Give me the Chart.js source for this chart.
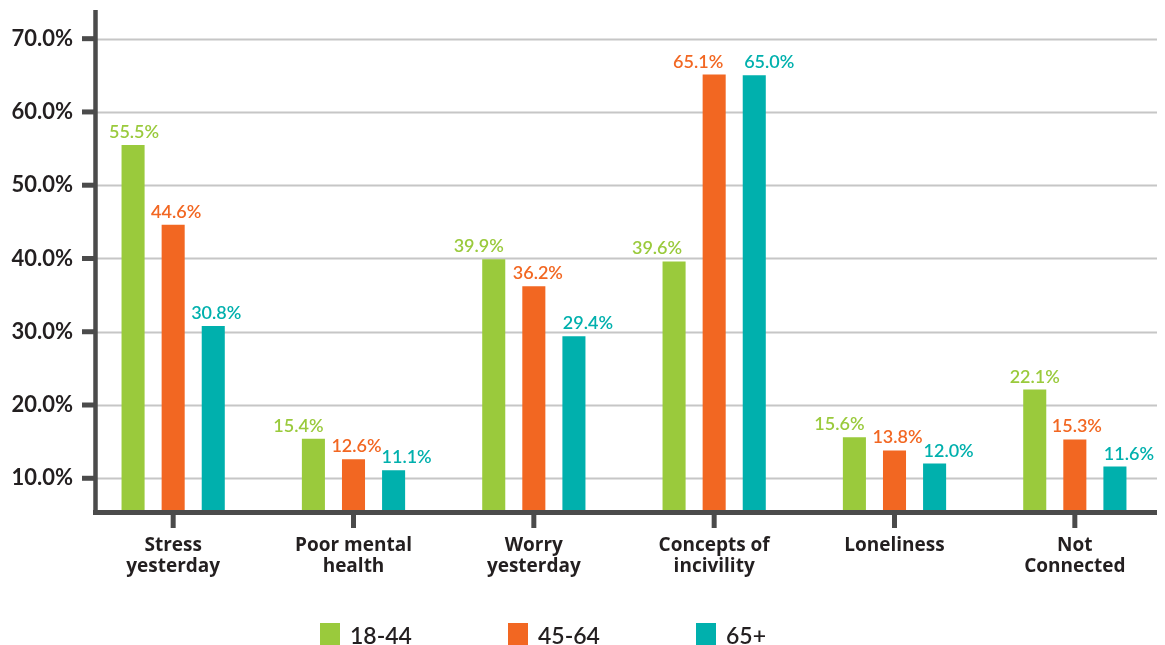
<!DOCTYPE html>
<html>
<head>
<meta charset="utf-8">
<script src="https://cdn.jsdelivr.net/npm/chart.js@4.4.1/dist/chart.umd.min.js"></script>
<style>
  body { margin: 0; background: #fff; }
  #wrap { width: 1165px; height: 645px; position: relative; }
</style>
</head>
<body>
<div id="wrap"><canvas id="ageChart"></canvas></div>
<script>
// Categories and series (values in %)
const categories = [
  ["Stress", "yesterday"],
  ["Poor mental", "health"],
  ["Worry", "yesterday"],
  ["Concepts of", "incivility"],
  ["Loneliness"],
  ["Not", "Connected"]
];
const ages18to44 = [55.5, 15.4, 39.9, 39.6, 15.6, 22.1];
const ages45to64 = [44.6, 12.6, 36.2, 65.1, 13.8, 15.3];
const ages65plus = [30.8, 11.1, 29.4, 65.0, 12.0, 11.6];
const yTicks = [10, 20, 30, 40, 50, 60, 70];

const axisColor = "#4b4b4b";
const textColor = "#231f20";

// small horizontal nudges so neighbouring labels don't collide (px, per series)
const labelNudge = [
  [1, -15, -15, -17, -15, 0],
  [3, 3, 4, -16, 3, 2],
  [3, 13, 14, 15, 14, 14]
];

// Grid lines + axis lines drawn like the print chart
const axesPlugin = {
  id: "axesPlugin",
  beforeDatasetsDraw(chart) {
    const { ctx } = chart;
    const y = chart.scales.y;
    ctx.save();
    ctx.strokeStyle = "#c6c6c6";
    ctx.lineWidth = 2;
    yTicks.forEach(v => {
      const py = Math.round(y.getPixelForValue(v)) + 0.5;
      ctx.beginPath();
      ctx.moveTo(97, py);
      ctx.lineTo(1157, py);
      ctx.stroke();
    });
    ctx.restore();
  },
  afterDatasetsDraw(chart) {
    const { ctx, chartArea } = chart;
    const x = chart.scales.x, y = chart.scales.y;
    ctx.save();
    ctx.strokeStyle = axisColor;
    // y axis
    ctx.lineWidth = 4.5;
    ctx.beginPath();
    ctx.moveTo(95.5, chartArea.top + 1);
    ctx.lineTo(95.5, chartArea.bottom + 5);
    ctx.stroke();
    // y tick marks
    ctx.lineWidth = 5;
    yTicks.forEach(v => {
      const py = y.getPixelForValue(v);
      ctx.beginPath();
      ctx.moveTo(82, py);
      ctx.lineTo(95, py);
      ctx.stroke();
    });
    // x axis
    ctx.beginPath();
    ctx.moveTo(93, chartArea.bottom + 2.5);
    ctx.lineTo(1157, chartArea.bottom + 2.5);
    ctx.stroke();
    // category ticks
    categories.forEach((c, i) => {
      const px = x.getPixelForValue(i);
      ctx.beginPath();
      ctx.moveTo(px, chartArea.bottom + 4);
      ctx.lineTo(px, chartArea.bottom + 18);
      ctx.stroke();
    });
    ctx.restore();
  }
};

// Value labels above each bar
const valueLabels = {
  id: "valueLabels",
  afterDatasetsDraw(chart) {
    const { ctx } = chart;
    ctx.save();
    ctx.font = "600 18px Lato";
    ctx.textAlign = "center";
    ctx.textBaseline = "alphabetic";
    chart.data.datasets.forEach((ds, di) => {
      ctx.fillStyle = ds.backgroundColor;
      chart.getDatasetMeta(di).data.forEach((bar, i) => {
        ctx.fillText(ds.data[i].toFixed(1) + "%", bar.x + labelNudge[di][i], bar.y - 7);
      });
    });
    ctx.restore();
  }
};

// Legend row at the bottom (runs off the lower edge like the source image)
const legendRow = {
  id: "legendRow",
  afterDraw(chart) {
    const { ctx } = chart;
    ctx.save();
    ctx.font = "600 23px Lato";
    ctx.textBaseline = "alphabetic";
    chart.data.datasets.forEach((ds, i) => {
      const lx = 320 + i * 188;
      ctx.fillStyle = ds.backgroundColor;
      ctx.fillRect(lx, 623, 20, 24);
      ctx.fillStyle = textColor;
      ctx.fillText(ds.label, lx + 30, 644);
    });
    ctx.restore();
  }
};

new Chart(document.getElementById("ageChart"), {
  type: "bar",
  data: {
    labels: categories,
    datasets: [
      { label: "18-44", data: ages18to44, backgroundColor: "#9aca3c" },
      { label: "45-64", data: ages45to64, backgroundColor: "#f26722" },
      { label: "65+", data: ages65plus, backgroundColor: "#00b0ad" }
    ]
  },
  options: {
    responsive: true,
    maintainAspectRatio: false,
    animation: false,
    categoryPercentage: 0.667,
    barPercentage: 0.575,
    layout: { padding: { top: 9, left: 0, right: 0, bottom: 0 } },
    plugins: {
      legend: { display: false },
      tooltip: { enabled: false }
    },
    scales: {
      x: {
        grid: { display: false, drawTicks: false },
        border: { display: false },
        ticks: {
          color: textColor,
          font: { family: "Open Sans", weight: "bold", size: 19, lineHeight: 1.1 },
          padding: 25,
          maxRotation: 0,
          autoSkip: false
        },
        afterFit(scale) {
          scale.height = 135;
          scale.paddingLeft = 0;
          scale.paddingRight = 0;
        }
      },
      y: {
        min: 5.67,
        max: 74.05,
        grid: { display: false, drawTicks: false },
        border: { display: false },
        afterBuildTicks(scale) {
          scale.ticks = yTicks.map(v => ({ value: v }));
        },
        ticks: {
          color: textColor,
          font: { family: "Lato", weight: "bold", size: 22 },
          padding: 10,
          callback: v => v.toFixed(1) + "%"
        },
        afterFit(scale) {
          scale.width = 83;
          scale.paddingTop = 0;
          scale.paddingBottom = 0;
        }
      }
    }
  },
  plugins: [axesPlugin, valueLabels, legendRow]
});
</script>
</body>
</html>
